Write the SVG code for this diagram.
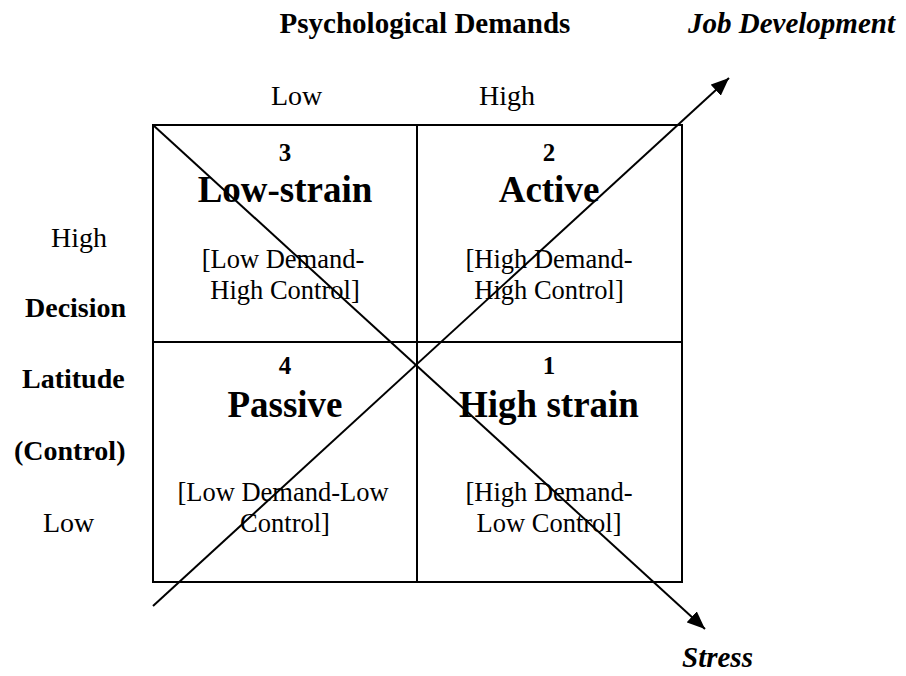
<svg xmlns="http://www.w3.org/2000/svg" width="906" height="676" viewBox="0 0 906 676">
<defs>
<style>
text{font-family:"Liberation Serif","Times New Roman",serif;fill:#000}
.h{font-size:29px;font-weight:bold}
.hi{font-size:29px;font-weight:bold;font-style:italic}
.r{font-size:28px}
.b{font-size:28px;font-weight:bold}
.n{font-size:25px;font-weight:bold}
.big{font-size:37px;font-weight:bold}
.br{font-size:26.5px}
.c{text-anchor:middle}
.cell{fill:none;stroke:#000;stroke-width:2}
.ln{stroke:#000;stroke-width:2;fill:none}
</style>
<marker id="ah" markerUnits="userSpaceOnUse" markerWidth="18" markerHeight="15" refX="18" refY="7.5" orient="auto" viewBox="0 0 18 15">
<path d="M0,0 L18,7.5 L0,15 z" fill="#000"/>
</marker>
</defs>
<rect width="906" height="676" fill="#fff"/>
<g id="labels">
<text class="h c" x="425" y="33">Psychological Demands</text>
<text class="hi" x="688" y="33">Job Development</text>
<text class="r" x="271" y="105">Low</text>
<text class="r" x="479" y="105">High</text>
<text class="r" x="51" y="247">High</text>
<text class="b" x="25" y="317">Decision</text>
<text class="b" x="22" y="388">Latitude</text>
<text class="b" x="14" y="460">(Control)</text>
<text class="r" x="43" y="532">Low</text>
<text class="hi" x="682" y="667">Stress</text>
</g>
<g id="q3">
<rect class="cell" x="153" y="125" width="264" height="217"/>
<text class="n c" x="285" y="161">3</text>
<text class="big c" x="285" y="202">Low-strain</text>
<text class="br c" x="283" y="268">[Low Demand-</text>
<text class="br c" x="285" y="299">High Control]</text>
</g>
<g id="q2">
<rect class="cell" x="417" y="125" width="265" height="217"/>
<text class="n c" x="549" y="161">2</text>
<text class="big c" x="549" y="202">Active</text>
<text class="br c" x="549" y="268">[High Demand-</text>
<text class="br c" x="549" y="299">High Control]</text>
</g>
<g id="q4">
<rect class="cell" x="153" y="342" width="264" height="240"/>
<text class="n c" x="285" y="374">4</text>
<text class="big c" x="285" y="417">Passive</text>
<text class="br c" x="283" y="501">[Low Demand-Low</text>
<text class="br c" x="285" y="532">Control]</text>
</g>
<g id="q1">
<rect class="cell" x="417" y="342" width="265" height="240"/>
<text class="n c" x="549" y="374">1</text>
<text class="big c" x="549" y="417">High strain</text>
<text class="br c" x="549" y="501">[High Demand-</text>
<text class="br c" x="549" y="532">Low Control]</text>
</g>
<g id="connectors">
<line class="ln" x1="153" y1="125" x2="705" y2="629" marker-end="url(#ah)"/>
<line class="ln" x1="153" y1="606" x2="729" y2="78" marker-end="url(#ah)"/>
</g>
</svg>
